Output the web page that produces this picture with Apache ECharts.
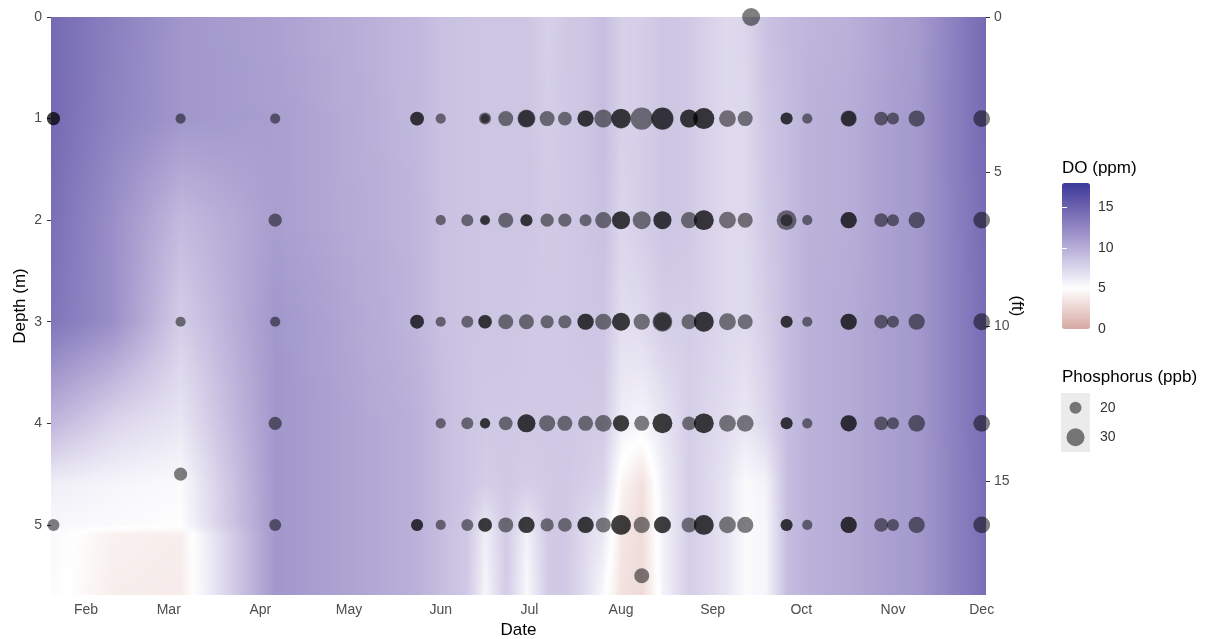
<!DOCTYPE html>
<html>
<head>
<meta charset="utf-8">
<title>DO and phosphorus by depth</title>
<script src="https://cdn.jsdelivr.net/npm/echarts@6.0.0/dist/echarts.min.js"></script>
<style>
  html, body { margin: 0; padding: 0; background: #fff; }
  #chart { width: 1216px; height: 639px; }
</style>
</head>
<body>
<div id="chart"></div>
<script>
const YEAR = 2019
const FONT = '"Liberation Sans", Arial, Helvetica, sans-serif'

// axis ticks / labels
const monthTicks = ['02-01', '03-01', '04-01', '05-01', '06-01', '07-01', '08-01', '09-01', '10-01', '11-01', '12-01']
const monthLabels = ['Feb', 'Mar', 'Apr', 'May', 'Jun', 'Jul', 'Aug', 'Sep', 'Oct', 'Nov', 'Dec']
const depthTicks = [0, 1, 2, 3, 4, 5]
const ftTicks = [0, 5, 10, 15]
const doBreaks = [0, 5, 10, 15]
const phosBreaks = [20, 30]

// DO (ppm) field: one array per depth level, one value per field date
const fieldDates = ['01-20', '02-10', '03-05', '04-06', '05-24', '06-01', '06-10', '06-16', '06-23', '06-30',
  '07-07', '07-13', '07-20', '07-26', '08-01', '08-08', '08-15', '08-24', '08-29', '09-06',
  '09-12', '09-19', '09-26', '10-03', '10-17', '11-01', '11-09', '12-03']
const fieldDepths = [0, 1, 2, 3, 4, 4.6, 5.0, 5.1, 5.7]
const do0m  = [14.5, 13, 11.5, 10.8, 9.3, 8.8, 8.6, 8.5, 8.5, 8.5, 7.8, 8.3, 8.5, 9, 7.8, 8, 8.5, 8.3, 7.8, 7.3, 7.5, 8.7, 9.2, 9.5, 9.8, 10.8, 11.2, 14.6]
const do1m  = [14.5, 12.8, 11.5, 11, 9.3, 8.8, 8.6, 8.5, 8.5, 8.5, 8, 8.3, 8.5, 9, 7.8, 8, 8.5, 8.3, 7.8, 7.3, 7.3, 8.5, 9, 9.7, 10, 11, 11.3, 14.6]
const do2m  = [14.2, 12, 9.2, 11, 9.5, 8.8, 8.6, 8.5, 8.5, 8.5, 8.2, 8.3, 8.5, 8.8, 7.5, 8, 8.5, 8.3, 7.8, 7.3, 7.3, 8.3, 9, 9.7, 10, 11, 11.3, 14.5]
const do3m  = [13.8, 12, 8, 11.5, 9.5, 8.8, 8.6, 8.5, 8.5, 8.3, 8.3, 8.3, 8.5, 8.5, 7, 7.2, 8, 8, 7.8, 7.3, 7.2, 8, 9, 9.7, 10.2, 11, 11.3, 14.4]
const do4m  = [9.5, 7.5, 6.5, 11.5, 9.8, 9, 8.5, 8.3, 8.3, 8.3, 8.3, 8.3, 8.2, 8.2, 6, 5.6, 6.5, 8, 7.5, 7, 6.5, 7.5, 9, 9.7, 10.2, 11, 11.3, 14.4]
const do46m = [6, 5.6, 5.3, 11.5, 9.8, 9, 8.5, 8, 8.3, 8, 8.2, 8.3, 8, 7.5, 4.5, 3.2, 6, 8, 7.5, 6.5, 5.3, 5.8, 9, 9.7, 10.2, 11, 11.3, 14.3]
const do50m = [5.5, 5.3, 5.1, 11.5, 9.8, 9, 8.3, 6.5, 8.2, 6.5, 8.2, 8.3, 7.4, 6.5, 3.8, 3, 5.8, 8, 7.5, 6.5, 5.3, 5.6, 9, 9.7, 10.2, 11, 11.3, 14.3]
const do51m = [5.4, 4.2, 4, 11.5, 9.8, 9, 8.3, 6, 8.2, 5.8, 8.2, 8.3, 7.2, 6.3, 3.6, 3, 5.8, 8, 7.5, 6.5, 5.3, 5.6, 9, 9.7, 10.2, 11, 11.3, 14.3]
const do57m = [5.3, 4, 3.9, 11.5, 9.8, 9, 8.3, 5.5, 8.2, 5.3, 8.2, 8.3, 7, 5.3, 3.3, 2.9, 5.7, 8, 7.5, 6.5, 5.3, 5.6, 9, 9.7, 10.2, 11, 11.3, 14.3]

// phosphorus (ppb) samples, one array per depth; "rep" = second sample at the same spot
const sampleDates = ['01-21', '03-05', '04-06', '05-24', '06-01', '06-10', '06-16', '06-23', '06-30', '07-07',
  '07-13', '07-20', '07-26', '08-01', '08-08', '08-15', '08-24', '08-29', '09-06', '09-12',
  '09-26', '10-03', '10-17', '10-28', '11-01', '11-09', '12-01']
const phos1m = [22, 17, 17, 23, 17, null, 20, 25, 30, 25, 23, 27, 30, 33, 37, 37, 30, 35, 28, 25, 20, 17, 27, 23, 20, 27, 28]
const rep1m  = [22, null, null, 23, null, null, 15, null, 28, null, null, 27, null, 32, null, 36, 30, 35, null, null, 20, null, 25, null, null, null, null]
const phos2m = [null, null, 22, null, 17, 20, 17, 25, 20, 22, 22, 20, 27, 30, 30, 30, 27, 33, 28, 25, 33, 17, 27, 23, 20, 27, 28]
const rep2m  = [null, null, null, null, null, null, 15, null, 20, null, null, null, null, 30, null, 30, null, 33, null, null, 20, null, 27, null, null, null, null]
const phos3m = [null, 17, 17, 23, 17, 20, 23, 25, 25, 22, 22, 27, 27, 30, 27, 33, 25, 33, 28, 25, 20, 17, 27, 23, 20, 27, 28]
const rep3m  = [null, null, null, 23, null, null, 22, null, null, null, null, 27, null, 30, null, 30, null, 33, null, null, 20, null, 27, null, null, null, null]
const phos4m = [null, null, 22, null, 17, 20, 17, 23, 30, 27, 25, 25, 28, 27, 25, 33, 23, 33, 28, 28, 20, 17, 27, 23, 20, 28, 28]
const rep4m  = [null, null, null, null, null, null, 17, null, 30, null, null, null, null, 27, null, 33, null, 33, null, null, 20, null, 27, null, null, null, null]
const phos5m = [20, null, 20, 20, 17, 20, 23, 25, 27, 22, 23, 27, 25, 33, 27, 28, 25, 33, 28, 27, 20, 17, 27, 23, 20, 27, 28]
const rep5m  = [null, null, null, 20, null, null, 23, null, 27, null, null, 27, null, 33, null, 28, null, 33, null, null, 20, null, 27, null, null, null, null]
const extraDates = ['03-05', '08-08', '09-14']
const extraDepths = [4.5, 5.5, 0]
const extraPhos = [22, 25, 30]

const ts = (md, hour) => {
  const [m, d] = md.split('-').map(Number)
  return new Date(YEAR, m - 1, d, hour || 0).getTime()
}

// scale_fill_gradient2 style colours (Lab interpolation), midpoint 5
const DO_MIN = 0, DO_MAX = 18, DO_MID = 5
const DO_HALF = Math.max(DO_MAX - DO_MID, DO_MID - DO_MIN)
const toLab = (hex) => {
  const lin = [1, 3, 5].map(i => {
    const c = parseInt(hex.substr(i, 2), 16) / 255
    return c <= 0.04045 ? c / 12.92 : Math.pow((c + 0.055) / 1.055, 2.4)
  })
  const X = (0.4124 * lin[0] + 0.3576 * lin[1] + 0.1805 * lin[2]) / 0.95047
  const Y = 0.2126 * lin[0] + 0.7152 * lin[1] + 0.0722 * lin[2]
  const Z = (0.0193 * lin[0] + 0.1192 * lin[1] + 0.9505 * lin[2]) / 1.08883
  const f = t => t > 0.008856 ? Math.cbrt(t) : 7.787 * t + 16 / 116
  return [116 * f(Y) - 16, 500 * (f(X) - f(Y)), 200 * (f(Y) - f(Z))]
}
const fromLab = (L, a, b) => {
  const fy = (L + 16) / 116, fx = fy + a / 500, fz = fy - b / 200
  const inv = t => t * t * t > 0.008856 ? t * t * t : (t - 16 / 116) / 7.787
  const X = 0.95047 * inv(fx), Y = inv(fy), Z = 1.08883 * inv(fz)
  const rgb = [
    3.2406 * X - 1.5372 * Y - 0.4986 * Z,
    -0.9689 * X + 1.8758 * Y + 0.0415 * Z,
    0.0557 * X - 0.2040 * Y + 1.0570 * Z
  ].map(c => {
    c = c <= 0.0031308 ? 12.92 * c : 1.055 * Math.pow(c, 1 / 2.4) - 0.055
    return Math.round(Math.max(0, Math.min(1, c)) * 255)
  })
  return 'rgb(' + rgb.join(',') + ')'
}
const labLow = toLab('#832424'), labMid = toLab('#ffffff'), labHigh = toLab('#3a3a98')
const doColor = (v) => {
  let t = (v - DO_MID) / DO_HALF
  const end = t >= 0 ? labHigh : labLow
  t = Math.min(Math.abs(t), 1)
  return fromLab(labMid[0] + (end[0] - labMid[0]) * t, labMid[1] + (end[1] - labMid[1]) * t, labMid[2] + (end[2] - labMid[2]) * t)
}
const legendColors = []
for (let v = DO_MIN; v <= DO_MAX; v++) legendColors.push(doColor(v))

// field cells: [date0, date1, depth0, depth1, DO top-left, top-right, bottom-left, bottom-right]
const doRows = [do0m, do1m, do2m, do3m, do4m, do46m, do50m, do51m, do57m]
const fieldCells = []
for (let i = 0; i < fieldDates.length - 1; i++) {
  for (let j = 0; j < fieldDepths.length - 1; j++) {
    fieldCells.push([ts(fieldDates[i]), ts(fieldDates[i + 1]), fieldDepths[j], fieldDepths[j + 1],
      doRows[j][i], doRows[j][i + 1], doRows[j + 1][i], doRows[j + 1][i + 1]])
  }
}

const lerp = (a, b, f) => a + (b - a) * f
const renderCell = (params, api) => {
  const p0 = api.coord([api.value(0), api.value(2)])
  const p1 = api.coord([api.value(1), api.value(3)])
  const vtl = api.value(4), vtr = api.value(5), vbl = api.value(6), vbr = api.value(7)
  const w = p1[0] - p0[0], h = p1[1] - p0[1]
  const n = Math.max(1, Math.ceil(h / 2))
  const children = []
  for (let k = 0; k < n; k++) {
    const f = (k + 0.5) / n
    const vl = lerp(vtl, vbl, f), vr = lerp(vtr, vbr, f)
    const stops = []
    for (let s = 0; s <= 8; s++) stops.push({ offset: s / 8, color: doColor(lerp(vl, vr, s / 8)) })
    children.push({
      type: 'rect',
      shape: { x: p0[0], y: p0[1] + k * h / n, width: w + 1, height: h / n + 1 },
      style: { fill: new echarts.graphic.LinearGradient(0, 0, 1, 0, stops) }
    })
  }
  return { type: 'group', children }
}

// phosphorus points
const depthRows = [1, 2, 3, 4, 5]
const phosRows = [phos1m, phos2m, phos3m, phos4m, phos5m]
const repRows = [rep1m, rep2m, rep3m, rep4m, rep5m]
const points = []
depthRows.forEach((d, r) => {
  sampleDates.forEach((md, i) => {
    if (phosRows[r][i] != null) points.push([ts(md), d, phosRows[r][i]])
    if (repRows[r][i] != null) points.push([ts(md), d, repRows[r][i]])
  })
})
extraDates.forEach((md, i) => points.push([ts(md), extraDepths[i], extraPhos[i]]))
const phosSize = v => v[2] * 0.6

const FT_PER_M = 1 / 0.3048
const depthMax = 5.69

const tickText = { color: '#4d4d4d', fontSize: 14, fontFamily: FONT }
const titleText = { color: '#000', fontSize: 17, fontFamily: FONT }
const monthTs = monthTicks.map(m => ts(m))

const chart = echarts.init(document.getElementById('chart'))
chart.setOption({
  animation: false,
  textStyle: { fontFamily: FONT },
  grid: [
    { left: 51, top: 17, width: 935, height: 578, outerBoundsMode: 'none', containLabel: false },
    { left: 1062, top: 183, width: 28, height: 146, outerBoundsMode: 'none' },
    { left: 1061, top: 393, width: 29, height: 59, outerBoundsMode: 'none', show: true, backgroundColor: '#ebebeb', borderWidth: 0 }
  ],
  xAxis: [
    {
      gridIndex: 0, type: 'value',
      min: ts('01-20', 4), max: ts('12-02', 11),
      name: 'Date', nameLocation: 'middle', nameGap: 24, nameTextStyle: titleText,
      axisLine: { show: false },
      axisTick: { show: true, length: 4, lineStyle: { color: '#333' }, customValues: monthTs },
      axisLabel: Object.assign({
        margin: 8, customValues: monthTs,
        formatter: v => monthLabels[monthTs.indexOf(v)]
      }, tickText),
      splitLine: { show: false }
    },
    { gridIndex: 1, type: 'value', min: 0, max: 1, show: false },
    { gridIndex: 2, type: 'value', min: 0, max: 1, show: false }
  ],
  yAxis: [
    {
      gridIndex: 0, type: 'value', inverse: true, min: 0, max: depthMax,
      name: 'Depth (m)', nameLocation: 'middle', nameGap: 22, nameRotate: 90, nameMoveOverlap: false,
      nameTextStyle: titleText,
      axisLine: { show: false },
      axisTick: { show: true, length: 4, lineStyle: { color: '#333' }, customValues: depthTicks },
      axisLabel: Object.assign({ margin: 9, customValues: depthTicks }, tickText),
      splitLine: { show: false }
    },
    {
      gridIndex: 0, type: 'value', inverse: true, position: 'right', min: 0, max: depthMax * FT_PER_M,
      name: '(ft)', nameLocation: 'middle', nameGap: 22, nameRotate: -90, nameMoveOverlap: false,
      nameTextStyle: titleText,
      axisLine: { show: false },
      axisTick: { show: true, length: 4, lineStyle: { color: '#333' }, customValues: ftTicks },
      axisLabel: Object.assign({ margin: 8, customValues: ftTicks }, tickText),
      splitLine: { show: false }
    },
    {
      gridIndex: 1, type: 'value', min: DO_MIN, max: DO_MAX, position: 'right', z: 10,
      axisLine: { show: false },
      axisTick: { show: true, inside: true, length: 5, lineStyle: { color: '#fff' }, customValues: doBreaks },
      axisLabel: { margin: 8, customValues: doBreaks, color: '#333', fontSize: 14, fontFamily: FONT },
      splitLine: { show: false }
    },
    {
      gridIndex: 1, type: 'value', min: DO_MIN, max: DO_MAX, position: 'left', z: 10,
      axisLine: { show: false },
      axisTick: { show: true, inside: true, length: 5, lineStyle: { color: '#fff' }, customValues: doBreaks },
      axisLabel: { show: false },
      splitLine: { show: false }
    },
    {
      gridIndex: 2, type: 'category', data: phosBreaks.map(String), inverse: true, position: 'right',
      axisLine: { show: false }, axisTick: { show: false },
      axisLabel: { margin: 10, color: '#333', fontSize: 14, fontFamily: FONT },
      splitLine: { show: false }
    }
  ],
  visualMap: {
    type: 'continuous', min: DO_MIN, max: DO_MAX, dimension: 4, seriesIndex: 0,
    orient: 'vertical', left: 1062, top: 183, itemWidth: 28, itemHeight: 146,
    calculable: false, hoverLink: false, padding: 0,
    inRange: { color: legendColors }
  },
  graphic: [
    { type: 'text', left: 1062, top: 160, style: { text: 'DO (ppm)', fontSize: 17, fontFamily: FONT, fill: '#000' } },
    { type: 'text', left: 1062, top: 369, style: { text: 'Phosphorus (ppb)', fontSize: 17, fontFamily: FONT, fill: '#000' } }
  ],
  series: [
    {
      type: 'custom', xAxisIndex: 0, yAxisIndex: 0,
      data: fieldCells, encode: { x: [0, 1], y: [2, 3] },
      renderItem: renderCell, clip: true, silent: true, z: 1
    },
    {
      type: 'scatter', xAxisIndex: 0, yAxisIndex: 0,
      data: points, symbolSize: phosSize, clip: true, silent: true, z: 3,
      itemStyle: { color: '#000', opacity: 0.5 }
    },
    {
      type: 'scatter', xAxisIndex: 2, yAxisIndex: 4,
      data: phosBreaks.map((p, i) => [0.5, i, p]), symbolSize: phosSize, silent: true,
      itemStyle: { color: '#000', opacity: 0.5 }
    }
  ]
})
</script>
</body>
</html>
